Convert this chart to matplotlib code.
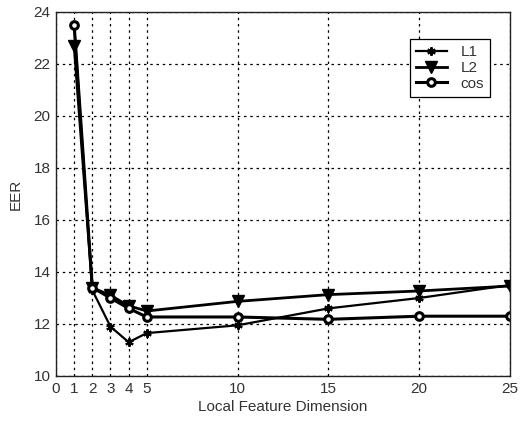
import matplotlib
matplotlib.use("Agg")
import matplotlib.pyplot as plt

dims = [1, 2, 3, 4, 5, 10, 15, 20, 25]
eer_l1 = [23.5, 13.3, 11.9, 11.3, 11.65, 11.95, 12.6, 13.0, 13.5]
eer_l2 = [22.7, 13.4, 13.1, 12.7, 12.5, 12.87, 13.13, 13.27, 13.46]
eer_cos = [23.5, 13.4, 13.0, 12.6, 12.27, 12.27, 12.18, 12.3, 12.3]
xticks = [0, 1, 2, 3, 4, 5, 10, 15, 20, 25]
yticks = [10, 12, 14, 16, 18, 20, 22, 24]

plt.rcParams['font.family'] = ['Liberation Sans', 'DejaVu Sans']
text_color = '#333333'

fig = plt.figure(figsize=(5.2, 4.24), dpi=100)
ax = fig.add_axes([56 / 520, 1 - 376 / 424, (510 - 56) / 520, (376 - 12) / 424])

ax.plot(dims, eer_l1, color='black', lw=1.6, marker=(6, 2, 0), ms=6, mew=1.5, label='L1')
ax.plot(dims, eer_l2, color='black', lw=2.0, marker='v', ms=8.5, label='L2')
ax.plot(dims, eer_cos, color='black', lw=2.2, marker='o', ms=5.5, mfc='white', mew=2.2, label='cos')

ax.set_xlim(0, 25)
ax.set_ylim(10, 24)
ax.set_xticks(xticks)
ax.set_yticks(yticks)
ax.grid(True, color='black', linestyle=(0, (2, 3)), linewidth=0.9)
ax.tick_params(direction='in', length=0, labelsize=11, colors=text_color, pad=4)
for s in ax.spines.values():
    s.set_linewidth(1.0)
    s.set_color('#222222')

ax.set_xlabel('Local Feature Dimension', fontsize=11, color=text_color, labelpad=3)
ax.set_ylabel('EER', fontsize=11, color=text_color, labelpad=8)

leg = ax.legend(loc='upper right', fancybox=False, edgecolor='black',
                framealpha=1, fontsize=11, handlelength=2.0, borderpad=0.4,
                labelspacing=0.12, handletextpad=0.9, borderaxespad=0)
leg.set_bbox_to_anchor((490 / 520, 1 - 39 / 424), transform=fig.transFigure)
leg.get_frame().set_linewidth(0.9)
for t in leg.get_texts():
    t.set_color(text_color)

fig.savefig('out.png', dpi=100)
